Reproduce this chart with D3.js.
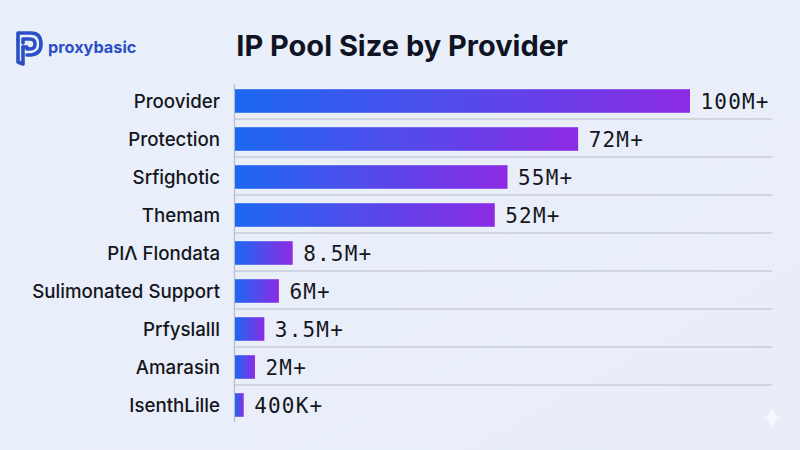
<!DOCTYPE html>
<html>
<head>
<meta charset="utf-8">
<script src="https://cdn.jsdelivr.net/npm/d3@7"></script>
<style>
  html, body { margin: 0; padding: 0; background: #e9eef9; }
  svg { display: block; }
</style>
</head>
<body>
<div id="chart"></div>
<script>
// ---- data ----
const providers = ["Proovider", "Protection", "Srfighotic", "Themam", "PIΛ Flondata",
  "Sulimonated Support", "Prfyslalll", "Amarasin", "IsenthLille"];
const poolSizesM = [100, 72, 55, 52, 8.5, 6, 3.5, 2, 0.4];
const valueLabels = ["100M+", "72M+", "55M+", "52M+", "8.5M+", "6M+", "3.5M+", "2M+", "400K+"];
const chartTitle = "IP Pool Size by Provider";
const brandName = "proxybasic";

// ---- layout ----
const W = 800, H = 450;
const axisX = 234.5;
const minBar = 5;

const svg = d3.select("#chart").append("svg")
  .attr("width", W).attr("height", H);

// background
const bg = svg.append("defs");
const bgGrad = bg.append("linearGradient").attr("id", "bgGrad")
  .attr("x1", "0").attr("y1", "0").attr("x2", "1").attr("y2", "1");
bgGrad.append("stop").attr("offset", "0%").attr("stop-color", "#eaf0fb");
bgGrad.append("stop").attr("offset", "100%").attr("stop-color", "#e8edf8");
svg.append("rect").attr("width", W).attr("height", H).attr("fill", "url(#bgGrad)");

const barGrad = bg.append("linearGradient").attr("id", "barGrad")
  .attr("x1", "0").attr("y1", "0").attr("x2", "1").attr("y2", "0");
barGrad.append("stop").attr("offset", "0%").attr("stop-color", "#1c68f2");
barGrad.append("stop").attr("offset", "100%").attr("stop-color", "#8c2be3");

// scales
const x = d3.scalePow().exponent(0.87).domain([0, 100]).range([0, 450]);
const y = d3.scaleBand().domain(providers).range([82, 82 + 9 * 38])
  .paddingInner(0.38).paddingOuter(0.19);

const data = providers.map((p, i) => ({ p, v: poolSizesM[i], label: valueLabels[i] }));

// gridlines between rows
const gap = y.step() - y.bandwidth();
svg.append("g").selectAll("line")
  .data(providers.slice(1))
  .join("line")
  .attr("x1", axisX).attr("x2", 772)
  .attr("y1", d => y(d) - gap / 2 - 1).attr("y2", d => y(d) - gap / 2 - 1)
  .attr("stroke", "#c7ccd6").attr("stroke-width", 1.3);

// axis line
svg.append("line")
  .attr("x1", axisX).attr("x2", axisX)
  .attr("y1", 84).attr("y2", 422)
  .attr("stroke", "#b9bec8").attr("stroke-width", 1.3);

// bars
svg.append("g").selectAll("rect")
  .data(data)
  .join("rect")
  .attr("x", axisX + 0.5)
  .attr("y", d => y(d.p))
  .attr("width", d => minBar + x(d.v))
  .attr("height", y.bandwidth())
  .attr("fill", "url(#barGrad)");

// category labels
svg.append("g").selectAll("text")
  .data(data)
  .join("text")
  .attr("x", 220)
  .attr("y", d => y(d.p) + y.bandwidth() / 2)
  .attr("dy", "0.36em")
  .attr("text-anchor", "end")
  .attr("font-family", "Inter, 'Noto Sans', sans-serif")
  .attr("font-weight", 500)
  .attr("font-size", 18.7)
  .attr("fill", "#14161c")
  .text(d => d.p);

// value labels
svg.append("g").selectAll("text")
  .data(data)
  .join("text")
  .attr("x", d => axisX + minBar + x(d.v) + 11)
  .attr("y", d => y(d.p) + y.bandwidth() / 2)
  .attr("dy", "0.36em")
  .attr("font-family", "'DejaVu Sans Mono', 'Liberation Mono', monospace")
  .attr("font-size", 21)
  .attr("letter-spacing", 1.2)
  .attr("fill", "#14161c")
  .text(d => d.label);

// title
svg.append("text")
  .attr("x", 402).attr("y", 56)
  .attr("text-anchor", "middle")
  .attr("font-family", "Inter, 'Noto Sans', sans-serif")
  .attr("font-weight", 700)
  .attr("font-size", 29)
  .attr("fill", "#0f1424")
  .text(chartTitle);

// logo
const logo = svg.append("g").attr("fill", "none").attr("stroke", "#2b4fc6")
  .attr("stroke-width", 3.6).attr("stroke-linejoin", "round").attr("stroke-linecap", "round");
logo.append("path").attr("d", "M18,40 L18,62 L23,64 L23,47");
logo.append("path").attr("d", "M18,40 L18,33 L31,33 Q41,33 41,44 Q41,54 31,55 L27,55");
logo.append("path").attr("d", "M23,43 L23,39 L30,39 Q35,39 35,44 Q35,49 30,49 L27,49");
logo.append("path").attr("d", "M23,47 L27,47");
svg.append("text")
  .attr("x", 48).attr("y", 53)
  .attr("font-family", "Inter, 'Noto Sans', sans-serif")
  .attr("font-weight", 700)
  .attr("font-size", 16.3)
  .attr("fill", "#2b4fc6")
  .text(brandName);

// sparkle
svg.append("path")
  .attr("d", "M772,407 Q774,416 782,418 Q774,420 772,429 Q770,420 762,418 Q770,416 772,407 Z")
  .attr("fill", "#ffffff").attr("opacity", 0.55);
</script>
</body>
</html>
